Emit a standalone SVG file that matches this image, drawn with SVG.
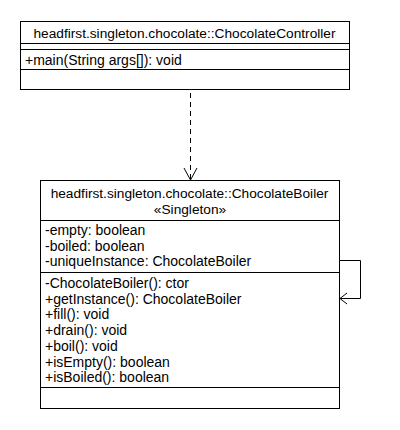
<svg xmlns="http://www.w3.org/2000/svg" width="400" height="430" viewBox="0 0 400 430">
<defs>
<style>
.box{fill:#fff;stroke:#000;stroke-width:1}
.ln{stroke:#000;stroke-width:1;fill:none}
text{font-family:"Liberation Sans",Arial,sans-serif;font-size:14px;fill:#000}
.t{font-size:13.7px;text-anchor:middle}
</style>
</defs>
<rect width="400" height="430" fill="#fff"/>
<g id="connectors">
<line class="ln" x1="190.5" y1="93" x2="190.5" y2="179" stroke-dasharray="5,4"/>
<polyline class="ln" points="184,168 190.5,180 197,168"/>
<polyline class="ln" points="339,260.5 360.5,260.5 360.5,298.5 340,298.5"/>
<polyline class="ln" points="347,293 340,298.5 347,304"/>
</g>
<g id="ChocolateController">
<rect class="box" x="20.5" y="21.5" width="329" height="68"/>
<line class="ln" x1="20" y1="43.5" x2="350" y2="43.5"/>
<line class="ln" x1="20" y1="49.5" x2="350" y2="49.5"/>
<line class="ln" x1="20" y1="69.5" x2="350" y2="69.5"/>
<text class="t" x="184.5" y="37.5">headfirst.singleton.chocolate::ChocolateController</text>
<text x="25" y="64.5">+main(String args[]): void</text>
</g>
<g id="ChocolateBoiler">
<rect class="box" x="40.5" y="180.5" width="299" height="228"/>
<line class="ln" x1="40" y1="220.5" x2="340" y2="220.5"/>
<line class="ln" x1="40" y1="272.5" x2="340" y2="272.5"/>
<line class="ln" x1="40" y1="387.5" x2="340" y2="387.5"/>
<text class="t" x="189.5" y="198">headfirst.singleton.chocolate::ChocolateBoiler</text>
<text class="t" x="190" y="213.5">«Singleton»</text>
<text x="45" y="235">-empty: boolean</text>
<text x="45" y="250.5">-boiled: boolean</text>
<text x="45" y="266">-uniqueInstance: ChocolateBoiler</text>
<text x="45" y="288">-ChocolateBoiler(): ctor</text>
<text x="45" y="303.7">+getInstance(): ChocolateBoiler</text>
<text x="45" y="319.4">+fill(): void</text>
<text x="45" y="335.1">+drain(): void</text>
<text x="45" y="350.8">+boil(): void</text>
<text x="45" y="366.5">+isEmpty(): boolean</text>
<text x="45" y="382.2">+isBoiled(): boolean</text>
</g>
</svg>
